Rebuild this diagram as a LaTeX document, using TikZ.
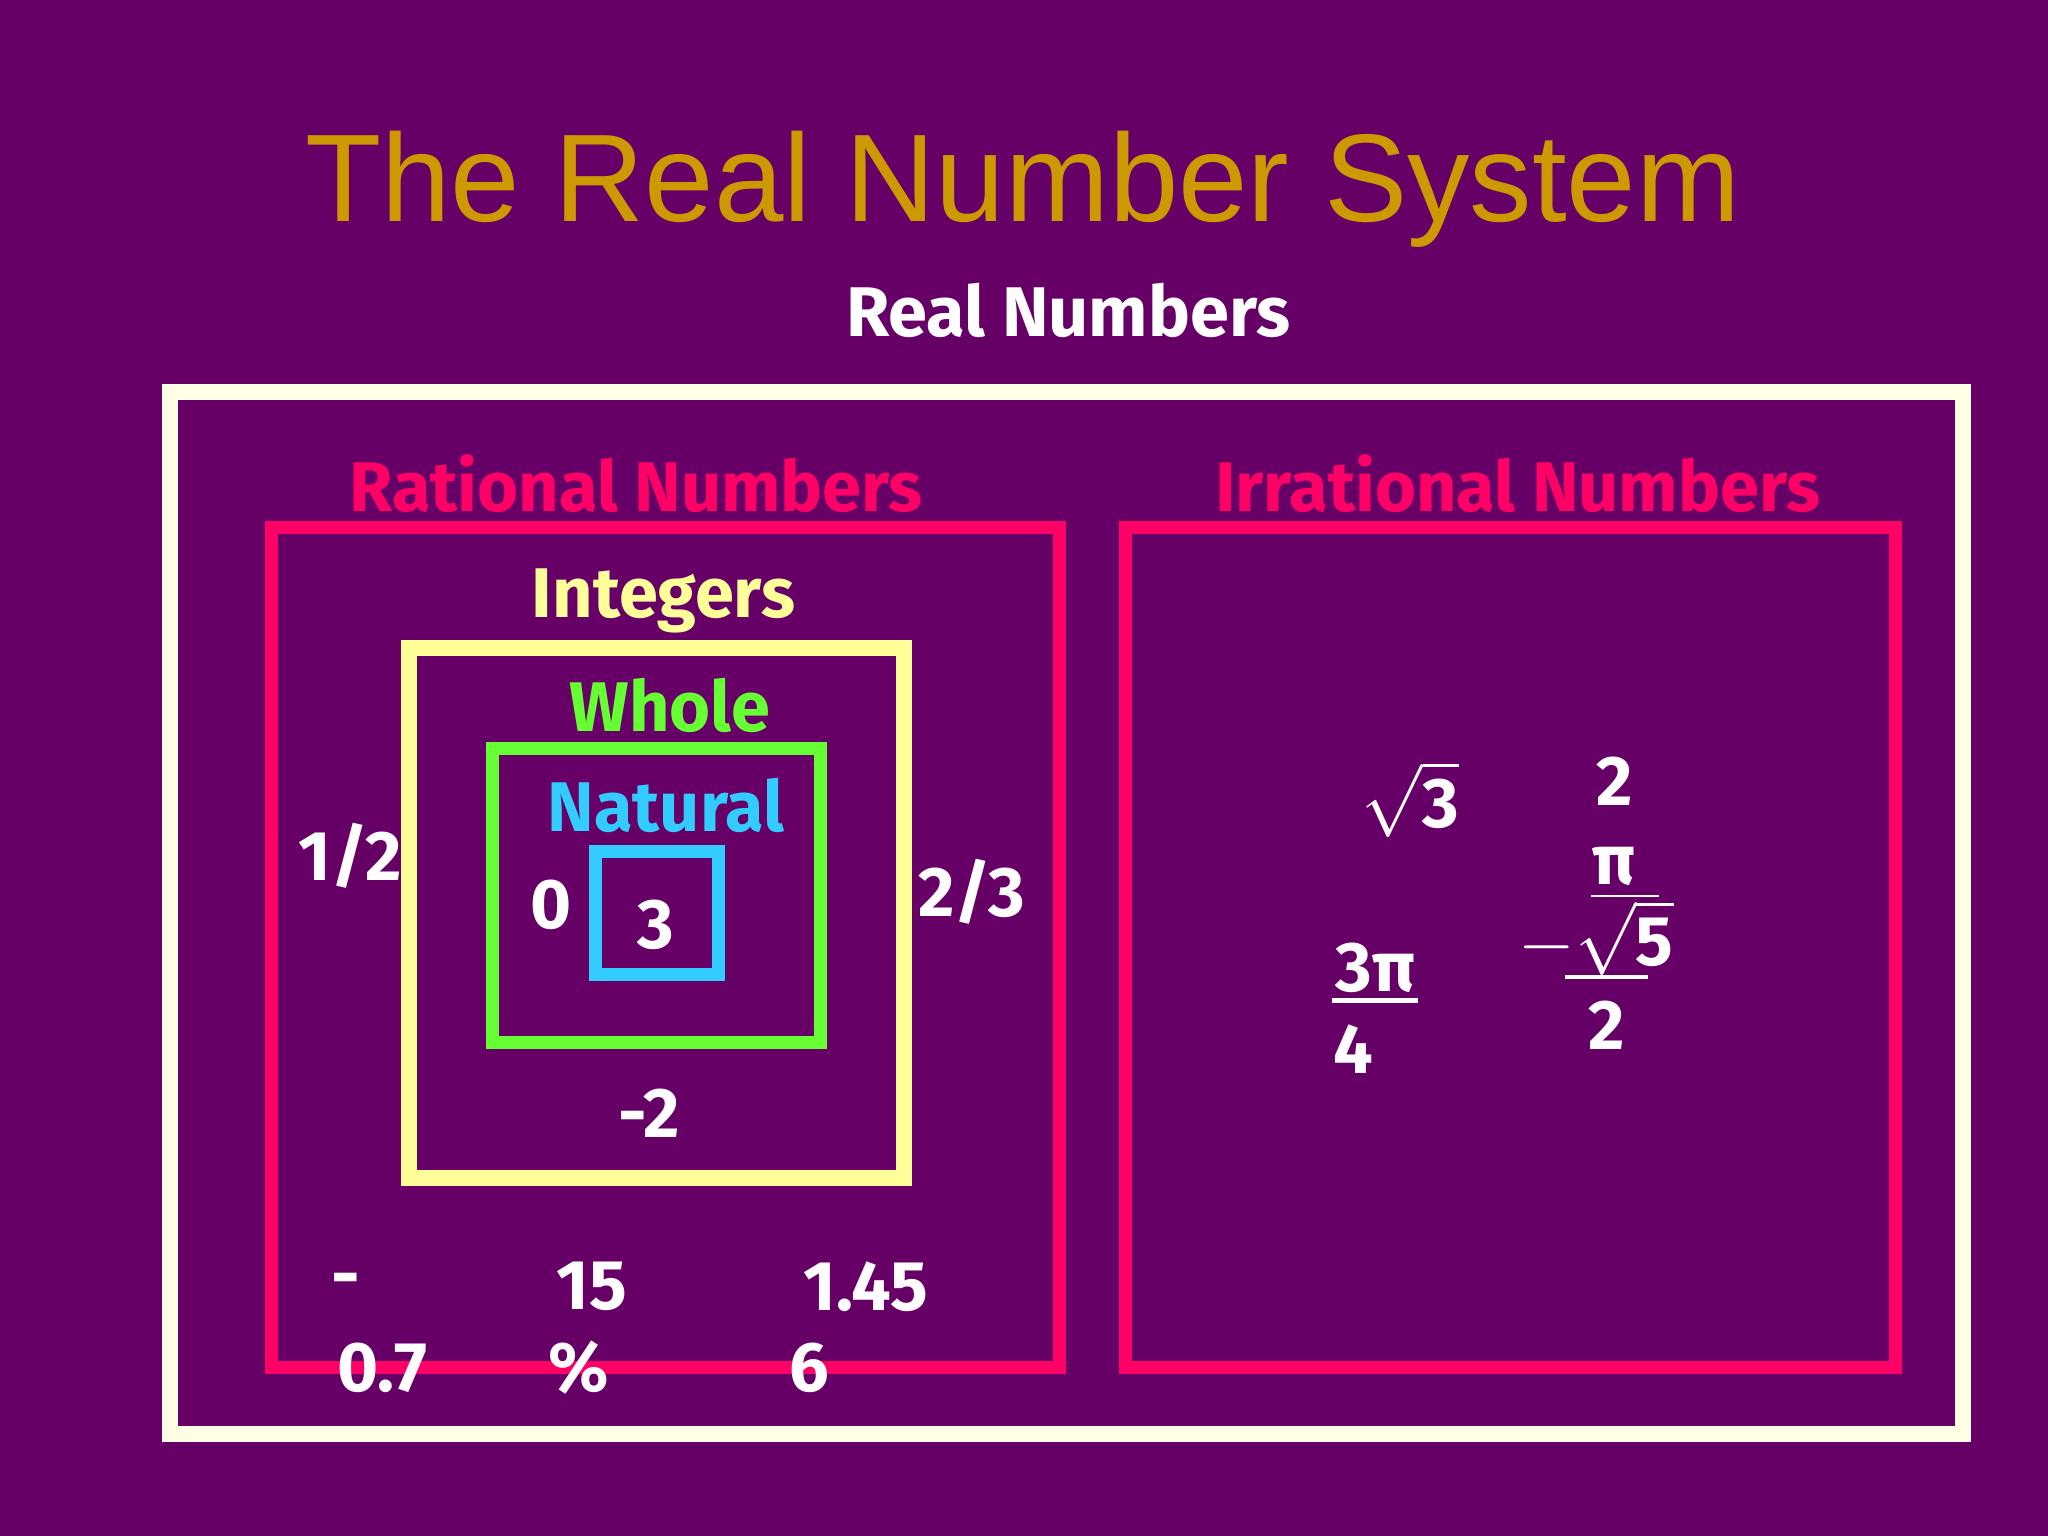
\documentclass[tikz,border=0pt]{standalone}
\usepackage{amsmath,amssymb}
\usepackage{fontspec}
\setmainfont{Fira Sans}
\newfontfamily\titlefont{Liberation Sans}
\definecolor{bg}{HTML}{660066}
\definecolor{gold}{HTML}{CC9900}
\definecolor{cream}{HTML}{FFFFE6}
\definecolor{pinkc}{HTML}{FF0066}
\definecolor{yel}{HTML}{FFFF99}
\definecolor{grn}{HTML}{66FF33}
\definecolor{cyn}{HTML}{33CCFF}
\tikzset{
 lbl/.style={font=\fontsize{20}{22}\selectfont\bfseries, inner sep=0pt},
 num/.style={lbl, text=white},
 boxw/.style={line width=#1*0.3706pt},
}
\begin{document}
\begin{tikzpicture}[x=0.013061cm,y=-0.013061cm]
\fill[bg] (0,0) rectangle (1568,1176);
\useasboundingbox (0,0) rectangle (1568,1176);
\node[inner sep=0pt,text=gold,font=\titlefont\fontsize{35.5}{38}\selectfont] (title) at (783,145) {The Real Number System};
\node[lbl,text=white] (real) at (818,238) {Real Numbers};
\node[lbl,text=pinkc] (rat) at (487,370) {Rational Numbers};
\node[lbl,text=pinkc] (irr) at (1162,370) {Irrational Numbers};
\node[lbl,text=yel] (int) at (508,460) {Integers};
\node[lbl,text=grn] (whole) at (513,540) {Whole};
\node[lbl,text=cyn] (nat) at (510,617) {Natural};
% numbers
\node[num] (n12) at (268,655) {1/2};
\node[num] (n23) at (744,683) {2/3};
\node[num] (n0) at (422,693) {0};
\node[num] (n3) at (502,708) {3};
\node[num] (nm2) at (497,852) {-2};
% irrational
\node[num] (s3) at (1080,612) {$\sqrt{\mathbf{3}}$};
\node[num] (i2a) at (1236,598) {2};
\node[num] (ipi) at (1236,663) {π};
\draw[white,line width=0.6pt] (1218,686) -- (1270,686);
\node[num] (s5) at (1222,718) {$-\sqrt{\mathbf{5}}$};
\draw[white,line width=1.2pt] (1198,748) -- (1262,748);
\node[num] (i2b) at (1230,785) {2};
\node[num] (tpi) at (1053,741) {3π};
\draw[white,line width=1.2pt] (1020,766) -- (1086,766);
\node[num] (i4) at (1036,803) {4};
% boxes
\draw[cream,boxw=12] (130,300) rectangle (1503,1098);
\draw[pinkc,boxw=10] (208,404) rectangle (811,1047);
\draw[pinkc,boxw=10] (862,404) rectangle (1451,1047);
\draw[yel,boxw=12] (313,496) rectangle (692,902);
\draw[grn,boxw=10] (377,573) rectangle (628,798);
\draw[cyn,boxw=10] (456,652) rectangle (550,746);
% bottom numbers on top of the box line
\node[num] (a1) at (265,985) {-};
\node[num] (a2) at (293,1047) {0.7};
\node[num] (b1) at (453,985) {15};
\node[num] (b2) at (443,1047) {\%};
\node[num] (c1) at (663,985) {1.45};
\node[num] (c2) at (620,1047) {6};
\end{tikzpicture}
\end{document}
